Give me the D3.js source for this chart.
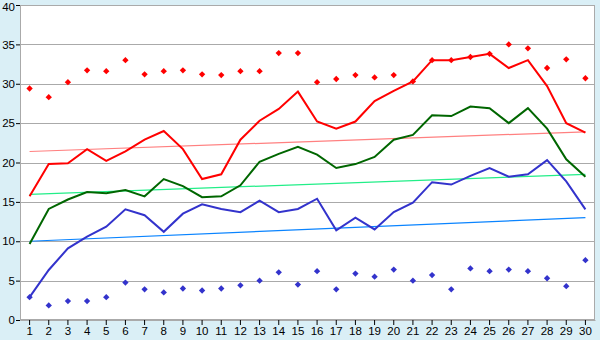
<!DOCTYPE html>
<html>
<head>
<meta charset="utf-8">
<script src="https://cdn.jsdelivr.net/npm/d3@7"></script>
<style>
  body { margin: 0; background: #daeff6; }
  svg { display: block; }
</style>
</head>
<body>
<div id="chart"></div>
<script>
// categories (days)
const days = d3.range(1, 31).map(String);

// upper line and its max points
const redLine = [15.7, 19.8, 19.9, 21.7, 20.2, 21.4, 22.9, 24.0, 21.7, 17.9,
                 18.5, 22.9, 25.3, 26.8, 29.0, 25.2, 24.3, 25.2, 27.8, 29.1,
                 30.3, 33.0, 33.0, 33.4, 33.8, 32.0, 33.0, 29.7, 25.0, 23.8];
const redPoints = [29.4, 28.3, 30.2, 31.7, 31.6, 33.0, 31.2, 31.6, 31.7, 31.2,
                   31.1, 31.6, 31.6, 33.9, 33.9, 30.2, 30.6, 31.1, 30.8, 31.1,
                   30.3, 33.0, 33.0, 33.4, 33.8, 35.0, 34.5, 32.0, 33.1, 30.7];
// middle line
const greenLine = [9.65, 14.1, 15.3, 16.25, 16.1, 16.5, 15.7, 17.9, 17.0, 15.6,
                   15.7, 17.1, 20.1, 21.1, 22.0, 21.0, 19.3, 19.8, 20.7, 22.9,
                   23.5, 26.0, 25.9, 27.1, 26.9, 25.0, 26.9, 24.3, 20.4, 18.2];
// lower line and its min points
const blueLine = [2.9, 6.35, 9.1, 10.6, 11.85, 14.05, 13.3, 11.2, 13.5, 14.7,
                  14.1, 13.7, 15.15, 13.7, 14.1, 15.4, 11.4, 13.0, 11.5, 13.7,
                  14.9, 17.5, 17.2, 18.3, 19.3, 18.2, 18.5, 20.3, 17.6, 14.05];
const bluePoints = [2.9, 1.85, 2.4, 2.4, 2.9, 4.75, 3.9, 3.5, 4.0, 3.75,
                    4.0, 4.4, 5.0, 6.05, 4.5, 6.2, 3.9, 5.9, 5.5, 6.4,
                    5.0, 5.7, 3.9, 6.55, 6.2, 6.4, 6.2, 5.3, 4.3, 7.6];

// trend lines: value at first and last day
const redTrend = [21.4, 23.9];
const greenTrend = [15.95, 18.5];
const blueTrend = [10.0, 13.0];

const yTicks = [0, 5, 10, 15, 20, 25, 30, 35, 40];

const W = 600, H = 340;
const margin = {top: 5, right: 5, bottom: 20, left: 20};
const width = W - margin.left - margin.right;
const height = H - margin.top - margin.bottom;

const svg = d3.select("#chart").append("svg")
    .attr("width", W).attr("height", H)
    .append("g")
    .attr("transform", `translate(${margin.left},${margin.top})`);

const x = d3.scaleBand().domain(days).range([0, width]);
const y = d3.scaleLinear().domain([0, 40]).range([height, 0]);
const cx = d => x(d) + x.bandwidth() / 2;

svg.append("rect")
    .attr("width", width).attr("height", height)
    .attr("fill", "#fff");

// gridlines
svg.append("g")
    .selectAll("line")
    .data(yTicks.filter(t => t > 0))
    .join("line")
    .attr("x1", 0).attr("x2", width)
    .attr("y1", d => Math.round(y(d)) + 0.5).attr("y2", d => Math.round(y(d)) + 0.5)
    .attr("stroke", "#aaa");

svg.append("rect")
    .attr("x", 0.5).attr("y", 0.5)
    .attr("width", width - 1).attr("height", height - 1)
    .attr("fill", "none").attr("stroke", "#aaa");

// trend lines
const trend = (vals, color) => {
    svg.append("line")
        .attr("x1", cx(days[0])).attr("x2", cx(days[days.length - 1]))
        .attr("y1", y(vals[0])).attr("y2", y(vals[1]))
        .attr("stroke", color).attr("stroke-width", 1.2);
};
trend(redTrend, "#ff8080");
trend(greenTrend, "#22ee88");
trend(blueTrend, "#0a84ff");

const line = d3.line().x((d, i) => cx(days[i])).y(d => y(d));
const drawLine = (vals, color) => {
    svg.append("path")
        .datum(vals)
        .attr("fill", "none")
        .attr("stroke", color)
        .attr("stroke-width", 2)
        .attr("d", line);
};
drawLine(blueLine, "#3333cc");
drawLine(greenLine, "#006600");
drawLine(redLine, "#ff0000");

// small square diamonds (square turned 45deg)
const marker = d3.symbol().type(d3.symbolSquare).size(20);
const drawPoints = (vals, color) => {
    svg.append("g")
        .selectAll("path")
        .data(vals)
        .join("path")
        .attr("transform", (d, i) => `translate(${cx(days[i])},${y(d)}) rotate(45)`)
        .attr("d", marker)
        .attr("fill", color);
};
drawPoints(redPoints, "#ff0000");
drawPoints(bluePoints, "#3333cc");

// axes
const xAxis = svg.append("g")
    .attr("transform", `translate(0,${height})`)
    .call(d3.axisBottom(x).tickSize(5).tickSizeOuter(0));
xAxis.select(".domain").attr("stroke", "#aaa");

const yAxis = svg.append("g")
    .call(d3.axisLeft(y).tickValues(yTicks).tickSize(4).tickSizeOuter(0));
yAxis.select(".domain").attr("stroke", "#aaa");

svg.selectAll(".tick text")
    .style("font-family", "Liberation Sans, Arial, sans-serif")
    .style("font-size", "11.5px")
    .attr("fill", "#000");
xAxis.selectAll(".tick text").attr("dy", "0.85em").attr("y", 5);
yAxis.selectAll(".tick text").attr("x", -5);
// keep the top label inside the picture
yAxis.selectAll(".tick text").filter(d => d === 40).attr("dy", "0.45em");
</script>
</body>
</html>
